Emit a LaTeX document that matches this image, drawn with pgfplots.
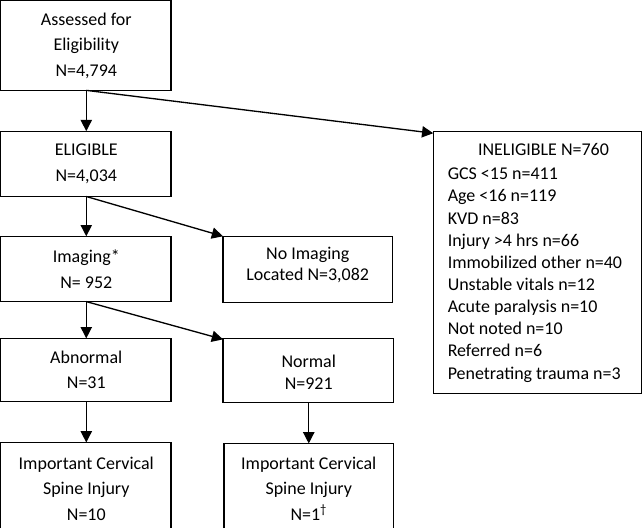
\documentclass[border=0pt]{standalone}
\usepackage{pgfplots}
\pgfplotsset{compat=1.18}
\usepackage{fontspec}
\setmainfont{Carlito}
\usetikzlibrary{arrows.meta}
\begin{document}
\begin{tikzpicture}
\begin{axis}[
  width=642pt, height=529pt, scale only axis,
  xmin=0, xmax=642, ymin=0, ymax=529, y dir=reverse,
  axis lines=none, clip=false,
  box/.style={black, line width=1.1pt, line join=miter, line cap=rect, mark=none},
  arr/.style={black, line width=1.3pt, mark=none, -{Triangle[length=11pt,width=11pt]}},
]
% boxes
\addplot[box] coordinates {(13,12) (180,12) (180,100) (13,100) (13,12)};
\addplot[box] coordinates {(13,140) (180,140) (180,204) (13,204) (13,140)};
\addplot[box] coordinates {(13,243) (180,243) (180,307) (13,307) (13,243)};
\addplot[box] coordinates {(231,243) (397,243) (397,308) (231,308) (231,243)};
\addplot[box] coordinates {(13,343) (180,343) (180,405) (13,405) (13,343)};
\addplot[box] coordinates {(231,343) (398,343) (398,406) (231,406) (231,343)};
\addplot[box, line cap=butt] coordinates {(13,529) (13,445) (180,445) (180,529)};
\addplot[box, line cap=butt] coordinates {(232,529) (232,446) (398,446) (398,529)};
\addplot[box] coordinates {(437,140) (641,140) (641,397) (437,397) (437,140)};
% arrows
\addplot[arr] coordinates {(97,100) (97,140)};
\addplot[arr] coordinates {(97,100) (437,142)};
\addplot[arr] coordinates {(97,204) (97,243)};
\addplot[arr] coordinates {(97,204) (231,243)};
\addplot[arr] coordinates {(97,307) (97,343)};
\addplot[arr] coordinates {(97,307) (231,344)};
\addplot[arr] coordinates {(97,405) (97,445)};
\addplot[arr] coordinates {(315,406) (315,446)};
% texts
\tikzset{lbl/.style={align=center, inner sep=0pt, font=\fontsize{17.6}{25}\selectfont}}
\node[lbl] at (axis cs:97,56) {Assessed for\\Eligibility\\N=4,794};
\node[lbl] at (axis cs:97,172) {ELIGIBLE\\N=4,034};
\node[lbl] at (axis cs:97,275) {Imaging*\\N= 952};
\node[lbl, font=\fontsize{17.6}{21}\selectfont] at (axis cs:314,271) {No Imaging\\Located N=3,082};
\node[lbl] at (axis cs:97,374) {Abnormal\\N=31};
\node[lbl, font=\fontsize{17.6}{22}\selectfont] at (axis cs:315,376) {Normal\\N=921};
\node[lbl] at (axis cs:97,490) {Important Cervical\\Spine Injury\\N=10};
\node[lbl] at (axis cs:315,490) {Important Cervical\\Spine Injury\\N=1\textsuperscript{\dag}};
\node[lbl] at (axis cs:545,158) {INELIGIBLE N=760};
\node[lbl, align=left, anchor=north west, font=\fontsize{17.6}{21.7}\selectfont] at (axis cs:451,176) {GCS <15 n=411\\Age <16 n=119\\KVD n=83\\Injury >4 hrs n=66\\Immobilized other n=40\\Unstable vitals n=12\\Acute paralysis n=10\\Not noted n=10\\Referred n=6\\Penetrating trauma n=3};
\end{axis}
\end{tikzpicture}
\end{document}
